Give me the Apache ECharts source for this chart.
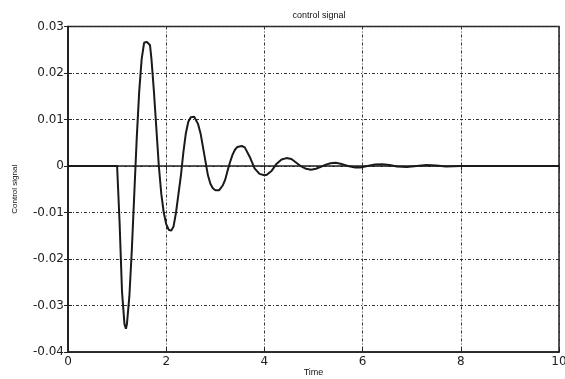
<!DOCTYPE html>
<html><head><meta charset="utf-8">
<script src="https://cdn.jsdelivr.net/npm/echarts@6/dist/echarts.min.js"></script>
<style>html,body{margin:0;padding:0;background:#fff}#c{width:565px;height:379px}</style>
</head><body><div id="c"></div>
<script>
const time = [0,0.5,1.0,1.05,1.1,1.15,1.18,1.2,1.25,1.3,1.35,1.4,1.45,1.5,1.55,1.6,1.67,1.7,1.75,1.8,1.85,1.9,1.95,2.0,2.05,2.1,2.15,2.2,2.25,2.3,2.35,2.4,2.45,2.5,2.57,2.65,2.7,2.75,2.8,2.85,2.9,2.95,3.0,3.08,3.15,3.2,3.25,3.3,3.35,3.4,3.45,3.54,3.6,3.7,3.8,3.9,4.0,4.05,4.15,4.25,4.35,4.45,4.55,4.65,4.75,4.85,4.95,5.05,5.15,5.25,5.35,5.45,5.55,5.7,5.85,5.95,6.1,6.25,6.4,6.55,6.7,6.9,7.1,7.3,7.5,7.7,8.0,8.5,9.0,10.0];
const signal = [0,0,0,-0.012,-0.027,-0.034,-0.035,-0.034,-0.028,-0.018,-0.006,0.006,0.016,0.023,0.0265,0.0267,0.026,0.023,0.016,0.008,0.000,-0.006,-0.010,-0.0125,-0.0137,-0.0139,-0.013,-0.010,-0.006,-0.002,0.003,0.007,0.0095,0.0105,0.0106,0.009,0.007,0.004,0.001,-0.002,-0.0038,-0.0048,-0.0052,-0.0052,-0.0042,-0.003,-0.001,0.0008,0.0024,0.0035,0.0041,0.0043,0.004,0.002,-0.0005,-0.0017,-0.002,-0.0019,-0.001,0.0005,0.0014,0.0017,0.0015,0.0007,-0.0001,-0.0006,-0.0008,-0.0006,-0.0002,0.0003,0.0006,0.0007,0.0005,0.0000,-0.0003,-0.0003,0.0000,0.0003,0.0004,0.0002,-0.0001,-0.0002,0.0000,0.0002,0.0001,-0.0001,0,0,0,0];
const xTicks = [0,2,4,6,8,10];
const yTicks = [-0.04,-0.03,-0.02,-0.01,0,0.01,0.02,0.03];
const titleText = 'control signal';
const xName = 'Time';
const yName = 'Control signal';

const chart = echarts.init(document.getElementById('c'), null, {renderer:'canvas'});
const gridLine = {show:true, lineStyle:{color:'#333', width:1, type:[3,2,1,2]}};
const fmtY = v => { const r = Math.round(v*100)/100; return r === 0 ? '0' : r.toFixed(2); };
chart.setOption({
  animation:false,
  backgroundColor:'#fff',
  title:{text:titleText, left:314, top:6, textAlign:'center',
    textStyle:{fontFamily:'Liberation Sans', fontSize:9, fontWeight:'normal', color:'#111'}},
  grid:{left:68, right:6, top:26.5, bottom:27, show:true, borderColor:'#222', borderWidth:1.5,
    containLabel:false, outerBoundsMode:'none'},
  xAxis:[{type:'value', min:xTicks[0], max:xTicks[xTicks.length-1], interval:2,
    name:xName, nameLocation:'middle', nameGap:16, nameMoveOverlap:false,
    nameTextStyle:{fontFamily:'Liberation Sans', fontSize:9, color:'#111', padding:[0,0,0,0]},
    axisLine:{show:true, onZero:false, lineStyle:{color:'#222', width:1.5}},
    axisTick:{show:true, inside:true, length:4, lineStyle:{color:'#222'}},
    axisLabel:{fontFamily:'DejaVu Sans', fontSize:12, color:'#222', margin:4},
    splitLine:gridLine},
   {type:'value', position:'top', min:0, max:10, interval:2,
    axisLine:{show:true, lineStyle:{color:'#222', width:1.5}},
    axisTick:{show:true, inside:true, length:4, lineStyle:{color:'#222'}},
    axisLabel:{show:false}, splitLine:{show:false}}],
  yAxis:[{type:'value', min:-0.04, max:0.03, interval:0.01,
    name:yName, nameLocation:'middle', nameGap:49, nameRotate:90, nameMoveOverlap:false,
    nameTextStyle:{fontFamily:'Liberation Sans', fontSize:8, color:'#111'},
    axisLine:{show:true, onZero:false, lineStyle:{color:'#222', width:1.5}},
    axisTick:{show:true, inside:true, length:4, lineStyle:{color:'#222'}},
    axisLabel:{fontFamily:'DejaVu Sans', fontSize:12, color:'#222', margin:4, formatter:fmtY},
    splitLine:gridLine},
   {type:'value', position:'right', min:-0.04, max:0.03, interval:0.01,
    axisLine:{show:true, lineStyle:{color:'#222', width:1.5}},
    axisTick:{show:true, inside:true, length:4, lineStyle:{color:'#222'}},
    axisLabel:{show:false}, splitLine:{show:false}}],
  series:[{type:'line', data:time.map((t,i)=>[t, signal[i]]), showSymbol:false, smooth:false,
    lineStyle:{color:'#1a1a1a', width:2}}]
});
</script></body></html>
